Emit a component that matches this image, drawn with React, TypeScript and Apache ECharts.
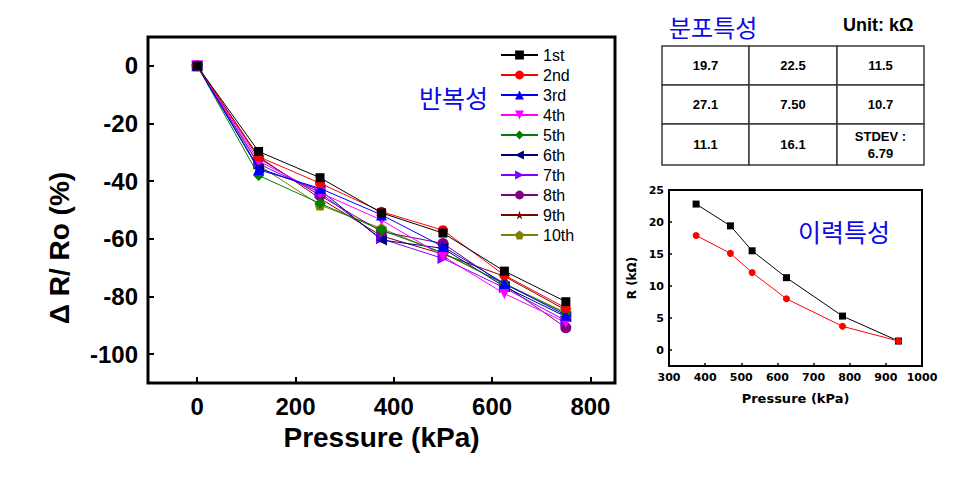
import React, { useEffect, useRef } from "react";
import * as echarts from "echarts";

// ---- main chart data ----
const pressure = [0, 125, 250, 375, 500, 625, 750];
const seriesNames = ["1st", "2nd", "3rd", "4th", "5th", "6th", "7th", "8th", "9th", "10th"];
const s1 = [0, -29.7, -38.8, -51.0, -58.0, -71.2, -81.8];
const s2 = [0, -31.5, -40.7, -50.6, -57.0, -72.6, -84.0];
const s3 = [0, -36.0, -42.5, -51.7, -62.7, -75.5, -86.5];
const s4 = [0, -33.0, -44.0, -53.5, -66.0, -79.0, -89.0];
const s5 = [0, -38.0, -47.7, -57.0, -64.8, -75.7, -85.9];
const s6 = [0, -35.5, -43.0, -60.4, -63.3, -76.6, -87.0];
const s7 = [0, -34.0, -44.0, -60.0, -66.8, -77.0, -88.4];
const s8 = [0, -32.0, -45.0, -57.5, -61.6, -76.0, -90.8];
const s9 = [0, -31.5, -46.0, -59.0, -65.3, -73.0, -84.7];
const s10 = [0, -34.4, -48.3, -56.4, -65.0, -75.5, -85.6];
const seriesValues = [s1, s2, s3, s4, s5, s6, s7, s8, s9, s10];
const mainXTicks = [0, 200, 400, 600, 800];
const mainYTicks = [0, -20, -40, -60, -80, -100];

// ---- hysteresis (inset) data ----
const hysPressure = [375, 470, 530, 625, 780, 935];
const hysUp = [22.8, 19.4, 15.5, 11.3, 5.3, 1.4];
const hysDown = [17.9, 15.1, 12.1, 8.0, 3.7, 1.4];
const insetXTicks = [300, 400, 500, 600, 700, 800, 900, 1000];
const insetYTicks = [0, 5, 10, 15, 20, 25];

// ---- distribution table ----
const tableRows = [
  ["19.7", "22.5", "11.5"],
  ["27.1", "7.50", "10.7"],
  ["11.1", "16.1", "STDEV :\n6.79"],
];

const colors = ["#000000", "#ff0000", "#0000ff", "#ff00ff", "#008000", "#000080", "#8000ff", "#800080", "#800000", "#808000"];
const symbols = [
  "rect",
  "circle",
  "triangle",
  "path://M0,0 L10,0 L5,10 Z",
  "diamond",
  "path://M10,0 L10,10 L0,5 Z",
  "path://M0,0 L0,10 L10,5 Z",
  "circle",
  "path://M50,0 L61.17,34.63 L97.55,34.55 L68.07,55.87 L79.39,90.45 L50,69 L20.61,90.45 L31.93,55.87 L2.45,34.55 L38.83,34.63 Z",
  "path://M50,0 L97.55,34.55 L79.39,90.45 L20.61,90.45 L2.45,34.55 Z",
];
const symbolSizes = [9, 10, 11, 11, 11, 11, 11, 11, 12, 11];

const ARIAL = "'Liberation Sans', Arial, sans-serif";
const VERDANA = "'DejaVu Sans', Verdana, sans-serif";
const CJK = "'Noto Sans CJK KR', sans-serif";
const BLUE = "#0a0ae6";

export default function App() {
  const ref = useRef<HTMLDivElement>(null);
  useEffect(() => {
    if (!ref.current) return;
    const chart = echarts.init(ref.current, null, { renderer: "svg" });

    const mainSeries = seriesNames.map((name, i) => ({
      name,
      type: "line",
      xAxisIndex: 0,
      yAxisIndex: 0,
      data: pressure.map((p, j) => [p, seriesValues[i][j]]),
      symbol: symbols[i],
      symbolSize: symbolSizes[i],
      showAllSymbol: true,
      lineStyle: { width: 1, color: colors[i] },
      itemStyle: { color: colors[i] },
      z: 20 - i,
    }));

    // table
    const tL = 654, tT = 38, colW = [87, 88, 87], rowH = [39, 39, 41];
    const tableGraphics: any[] = [];
    let y = tT;
    for (let r = 0; r < 3; r++) {
      let x = tL;
      for (let c = 0; c < 3; c++) {
        tableGraphics.push({
          type: "rect",
          shape: { x, y, width: colW[c], height: rowH[r] },
          style: { fill: "#fff", stroke: "#3a3a3a", lineWidth: 1.5 },
        });
        tableGraphics.push({
          type: "text",
          x: x + colW[c] / 2,
          y: y + rowH[r] / 2,
          style: {
            text: tableRows[r][c],
            fill: "#000",
            font: "bold 13px " + ARIAL,
            align: "center",
            verticalAlign: "middle",
            lineHeight: 17,
          },
        });
        x += colW[c];
      }
      y += rowH[r];
    }

    const option: any = {
      animation: false,
      backgroundColor: "#ffffff",
      legend: {
        data: seriesNames,
        orient: "vertical",
        left: 487,
        top: 34,
        itemWidth: 37,
        itemHeight: 11,
        itemGap: 4,
        textStyle: { fontFamily: ARIAL, fontSize: 16, color: "#000" },
        selectedMode: false,
      },
      grid: [
        { left: 140, top: 29, width: 467, height: 346, show: true, borderColor: "#000", borderWidth: 3, backgroundColor: "transparent" },
        { left: 661, top: 182, width: 253, height: 176, show: true, borderColor: "#000", borderWidth: 2, backgroundColor: "transparent" },
      ],
      xAxis: [
        {
          gridIndex: 0,
          type: "value",
          min: -100,
          max: 850,
          splitLine: { show: false },
          axisLine: { show: false, onZero: false },
          axisTick: { show: true, inside: true, length: 6, lineStyle: { width: 2, color: "#000" }, customValues: mainXTicks },
          axisLabel: { customValues: mainXTicks, color: "#000", fontSize: 24, fontWeight: "bold", fontFamily: ARIAL, margin: 11 },
          name: "Pressure (kPa)",
          nameLocation: "middle",
          nameGap: 40,
          nameTextStyle: { color: "#000", fontSize: 28, fontWeight: "bold", fontFamily: ARIAL, verticalAlign: "top" },
        },
        {
          gridIndex: 1,
          type: "value",
          min: 300,
          max: 1000,
          splitLine: { show: false },
          axisLine: { show: false, onZero: false },
          axisTick: { show: true, inside: true, length: 3, lineStyle: { width: 1.5, color: "#000" }, customValues: insetXTicks },
          axisLabel: { customValues: insetXTicks, formatter: (v: number) => String(v), color: "#000", fontSize: 11, fontWeight: "bold", fontFamily: VERDANA, margin: 6 },
          name: "Pressure (kPa)",
          nameLocation: "middle",
          nameGap: 26,
          nameTextStyle: { color: "#000", fontSize: 13, fontWeight: "bold", fontFamily: VERDANA, verticalAlign: "top" },
        },
      ],
      yAxis: [
        {
          gridIndex: 0,
          type: "value",
          min: -110,
          max: 10,
          splitLine: { show: false },
          axisLine: { show: false, onZero: false },
          axisTick: { show: true, inside: true, length: 6, lineStyle: { width: 2, color: "#000" }, customValues: mainYTicks },
          axisLabel: { customValues: mainYTicks, color: "#000", fontSize: 24, fontWeight: "bold", fontFamily: ARIAL, margin: 10 },
        },
        {
          gridIndex: 1,
          type: "value",
          min: -2.5,
          max: 25,
          splitLine: { show: false },
          axisLine: { show: false, onZero: false },
          axisTick: { show: true, inside: true, length: 3, lineStyle: { width: 1.5, color: "#000" }, customValues: insetYTicks },
          axisLabel: { customValues: insetYTicks, color: "#000", fontSize: 11, fontWeight: "bold", fontFamily: VERDANA, margin: 5 },
          name: "R (kΩ)",
          nameLocation: "middle",
          nameGap: 31,
          nameRotate: 90,
          nameTextStyle: { color: "#000", fontSize: 12, fontWeight: "bold", fontFamily: VERDANA },
        },
      ],
      series: [
        ...mainSeries,
        {
          name: "up",
          type: "line",
          xAxisIndex: 1,
          yAxisIndex: 1,
          data: hysPressure.map((p, j) => [p, hysUp[j]]),
          symbol: "rect",
          symbolSize: 7,
          lineStyle: { width: 1, color: "#000" },
          itemStyle: { color: "#000" },
        },
        {
          name: "down",
          type: "line",
          xAxisIndex: 1,
          yAxisIndex: 1,
          data: hysPressure.map((p, j) => [p, hysDown[j]]),
          symbol: "circle",
          symbolSize: 7,
          lineStyle: { width: 1, color: "#ff0000" },
          itemStyle: { color: "#ff0000" },
        },
      ],
      graphic: [
        {
          type: "text",
          x: 51,
          y: 240,
          rotation: Math.PI / 2,
          style: { text: "Δ R/ Ro (%)", fill: "#000", font: "bold 28px " + ARIAL, align: "center", verticalAlign: "middle", lineHeight: 30 },
        },
        {
          type: "text",
          x: 411,
          y: 89,
          style: { text: "반복성", fill: BLUE, font: "25px " + CJK, verticalAlign: "middle", lineHeight: 26 },
        },
        {
          type: "text",
          x: 790,
          y: 223,
          style: { text: "이력특성", fill: BLUE, font: "25px " + CJK, verticalAlign: "middle", lineHeight: 26 },
        },
        {
          type: "text",
          x: 661,
          y: 18,
          style: { text: "분포특성", fill: BLUE, font: "24px " + CJK, verticalAlign: "middle", lineHeight: 26 },
        },
        {
          type: "text",
          x: 835,
          y: 17,
          style: { text: "Unit: kΩ", fill: "#000", font: "bold 18px " + ARIAL, verticalAlign: "middle", lineHeight: 20 },
        },
        ...tableGraphics,
      ],
    };
    chart.setOption(option);
    return () => chart.dispose();
  }, []);
  return <div ref={ref} style={{ width: 945, height: 470 }} />;
}
